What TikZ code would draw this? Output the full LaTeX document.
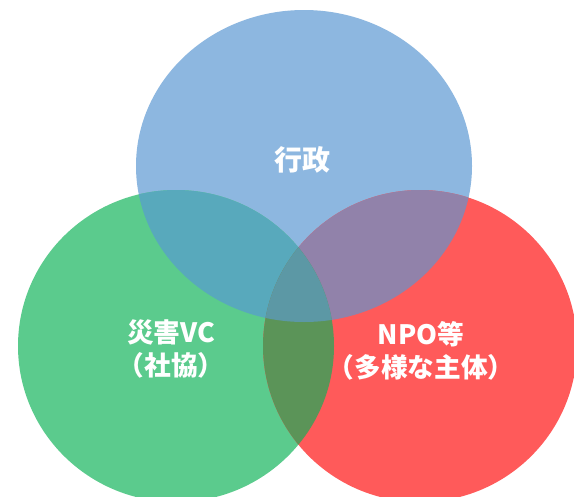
\documentclass[tikz,border=0pt]{standalone}
\usepackage{fontspec}
\newfontfamily\jpfont{Noto Sans CJK JP}

\definecolor{gyosei}{RGB}{141,183,224}
\definecolor{saigai}{RGB}{91,203,141}
\definecolor{npo}{RGB}{255,90,90}
\definecolor{gyosai}{RGB}{88,169,188}
\definecolor{gyonpo}{RGB}{145,130,170}
\definecolor{sainpo}{RGB}{91,148,88}
\definecolor{zenbu}{RGB}{92,152,165}

\tikzset{every picture/.style={line width=0.75pt}}
\tikzset{lbl/.style={text=white,font=\jpfont\bfseries\fontsize{20}{25}\selectfont,align=center,inner sep=0.75pt}}

\begin{document}
\begin{tikzpicture}[x=0.75pt,y=0.75pt,yscale=-1,xscale=1]
\useasboundingbox (0,0) rectangle (574,496);
\clip (0,0) rectangle (574,496);
\fill [white] (0,0) rectangle (574,496);

%Circles
\fill [gyosei] (304,166) ellipse [x radius=168, y radius=156];
\fill [saigai] (176,346) ellipse [x radius=158, y radius=156];
\fill [npo] (420,346) ellipse [x radius=157, y radius=156];

%Overlaps
\begin{scope}
\clip (304,166) ellipse [x radius=168, y radius=156];
\fill [gyosai] (176,346) ellipse [x radius=158, y radius=156];
\fill [gyonpo] (420,346) ellipse [x radius=157, y radius=156];
\end{scope}
\begin{scope}
\clip (176,346) ellipse [x radius=158, y radius=156];
\fill [sainpo] (420,346) ellipse [x radius=157, y radius=156];
\clip (420,346) ellipse [x radius=157, y radius=156];
\fill [zenbu] (304,166) ellipse [x radius=168, y radius=156];
\end{scope}

% Text Node
\node [lbl, font=\jpfont\bfseries\fontsize{21}{25}\selectfont] (gyo) at (302,160) {行政};
% Text Node
\node [lbl] (sai) at (171,349) {災害VC\\（社協）};
% Text Node
\node [lbl] (np) at (421,351) {NPO等\\（多様な主体）};

\end{tikzpicture}
\end{document}
